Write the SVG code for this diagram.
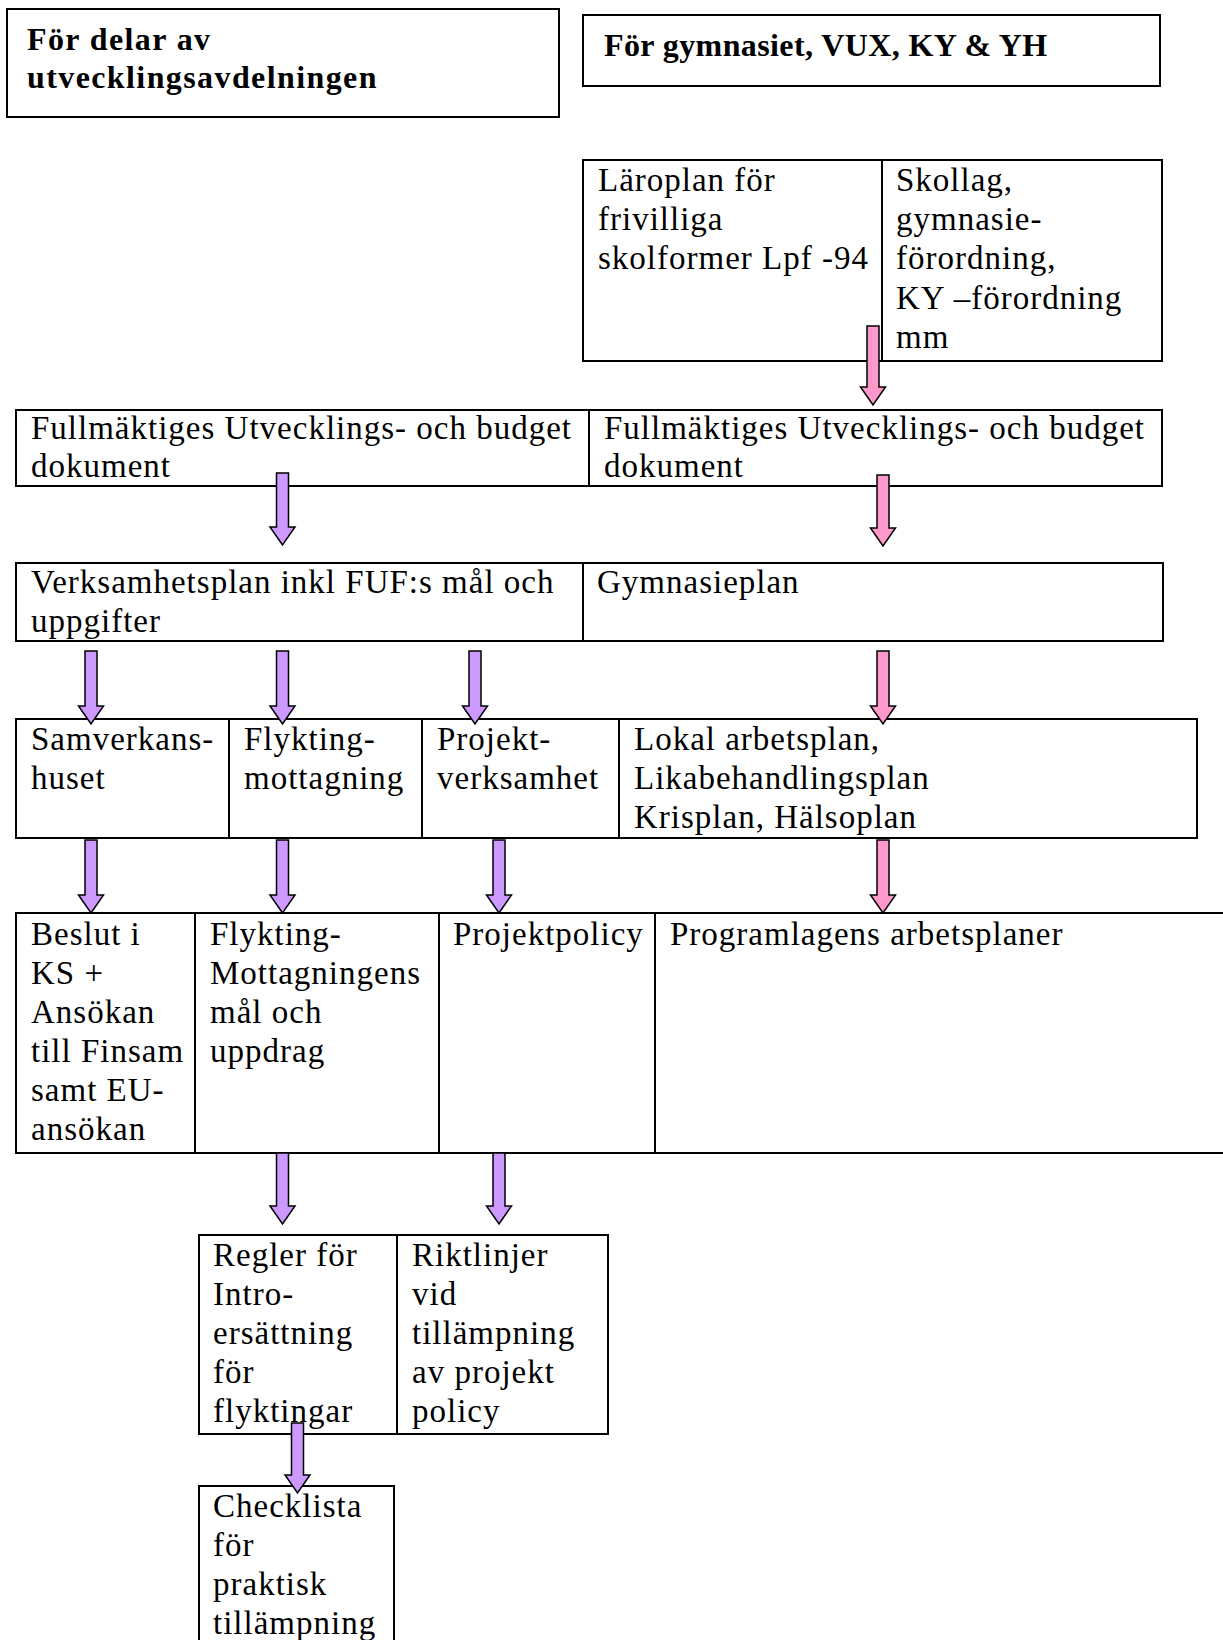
<svg xmlns="http://www.w3.org/2000/svg" width="1223" height="1640" viewBox="0 0 1223 1640">
<style>
.box{fill:#fff;stroke:#000;stroke-width:2}
.t{font-family:"Liberation Serif","Times New Roman",serif;font-size:33px;letter-spacing:1px;fill:#000}
.h{font-weight:bold;font-size:32px}
.pu{fill:#CC99FF;stroke:#000;stroke-width:1.5}
.pk{fill:#FF99CC;stroke:#000;stroke-width:1.5}
</style>
<rect width="1223" height="1640" fill="#fff"/>
<g id="hdrA"><rect class="box" x="7" y="9" width="552" height="108"/>
<text class="t h" x="27" y="50" style="letter-spacing:1.4px">För delar av</text>
<text class="t h" x="27" y="88" style="letter-spacing:1.4px">utvecklingsavdelningen</text></g>
<g id="hdrB"><rect class="box" x="583" y="15" width="577" height="71"/>
<text class="t h" x="604" y="56" style="letter-spacing:0.4px">För gymnasiet, VUX, KY &amp; YH</text></g>
<g id="laroplan"><rect class="box" x="583" y="160" width="299" height="201"/>
<text class="t" x="598" y="191">Läroplan för</text>
<text class="t" x="598" y="230">frivilliga</text>
<text class="t" x="598" y="269">skolformer Lpf -94</text></g>
<g id="skollag"><rect class="box" x="882" y="160" width="280" height="201"/>
<text class="t" x="896" y="191">Skollag,</text>
<text class="t" x="896" y="230">gymnasie-</text>
<text class="t" x="896" y="269">förordning,</text>
<text class="t" x="896" y="309">KY –förordning</text>
<text class="t" x="896" y="348">mm</text></g>
<g id="fullmA"><rect class="box" x="16" y="410" width="573" height="76"/>
<text class="t" x="31" y="439">Fullmäktiges Utvecklings- och budget</text>
<text class="t" x="31" y="477">dokument</text></g>
<g id="fullmB"><rect class="box" x="589" y="410" width="573" height="76"/>
<text class="t" x="604" y="439">Fullmäktiges Utvecklings- och budget</text>
<text class="t" x="604" y="477">dokument</text></g>
<g id="verksamhetsplan"><rect class="box" x="16" y="563" width="567" height="78"/>
<text class="t" x="31" y="593">Verksamhetsplan inkl FUF:s mål och</text>
<text class="t" x="31" y="632">uppgifter</text></g>
<g id="gymnasieplan"><rect class="box" x="583" y="563" width="580" height="78"/>
<text class="t" x="597" y="593">Gymnasieplan</text></g>
<g id="samverkanshuset"><rect class="box" x="16" y="719" width="213" height="119"/>
<text class="t" x="31" y="750">Samverkans-</text>
<text class="t" x="31" y="789">huset</text></g>
<g id="flyktingmottagning"><rect class="box" x="229" y="719" width="193" height="119"/>
<text class="t" x="244" y="750">Flykting-</text>
<text class="t" x="244" y="789">mottagning</text></g>
<g id="projektverksamhet"><rect class="box" x="422" y="719" width="197" height="119"/>
<text class="t" x="437" y="750">Projekt-</text>
<text class="t" x="437" y="789">verksamhet</text></g>
<g id="lokal"><rect class="box" x="619" y="719" width="578" height="119"/>
<text class="t" x="634" y="750">Lokal arbetsplan,</text>
<text class="t" x="634" y="789">Likabehandlingsplan</text>
<text class="t" x="634" y="828">Krisplan, Hälsoplan</text></g>
<g id="beslut"><rect class="box" x="16" y="913" width="179" height="240"/>
<text class="t" x="31" y="945">Beslut i</text>
<text class="t" x="31" y="984">KS +</text>
<text class="t" x="31" y="1023">Ansökan</text>
<text class="t" x="31" y="1062">till Finsam</text>
<text class="t" x="31" y="1101">samt EU-</text>
<text class="t" x="31" y="1140">ansökan</text></g>
<g id="flyktingmal"><rect class="box" x="195" y="913" width="244" height="240"/>
<text class="t" x="210" y="945">Flykting-</text>
<text class="t" x="210" y="984">Mottagningens</text>
<text class="t" x="210" y="1023">mål och</text>
<text class="t" x="210" y="1062">uppdrag</text></g>
<g id="projektpolicy"><rect class="box" x="439" y="913" width="216" height="240"/>
<text class="t" x="453" y="945">Projektpolicy</text></g>
<g id="programlagen"><rect class="box" x="655" y="913" width="580" height="240"/>
<text class="t" x="670" y="945">Programlagens arbetsplaner</text></g>
<g id="regler"><rect class="box" x="199" y="1235" width="198" height="199"/>
<text class="t" x="213" y="1266">Regler för</text>
<text class="t" x="213" y="1305">Intro-</text>
<text class="t" x="213" y="1344">ersättning</text>
<text class="t" x="213" y="1383">för</text>
<text class="t" x="213" y="1422">flyktingar</text></g>
<g id="riktlinjer"><rect class="box" x="397" y="1235" width="211" height="199"/>
<text class="t" x="412" y="1266">Riktlinjer</text>
<text class="t" x="412" y="1305">vid</text>
<text class="t" x="412" y="1344">tillämpning</text>
<text class="t" x="412" y="1383">av projekt</text>
<text class="t" x="412" y="1422">policy</text></g>
<g id="checklista"><rect class="box" x="199" y="1486" width="195" height="180"/>
<text class="t" x="213" y="1517">Checklista</text>
<text class="t" x="213" y="1556">för</text>
<text class="t" x="213" y="1595">praktisk</text>
<text class="t" x="213" y="1634">tillämpning</text></g>
<g id="connectors">
<path class="pk" d="M867 326 H879 V387 H885.5 L873 405 L860.5 387 H867 Z"/>
<path class="pu" d="M276.5 473 H288.5 V527 H295 L282.5 545 L270 527 H276.5 Z"/>
<path class="pk" d="M877 475 H889 V528 H895.5 L883 546 L870.5 528 H877 Z"/>
<path class="pu" d="M85 651 H97 V706 H103.5 L91 724 L78.5 706 H85 Z"/>
<path class="pu" d="M276.5 651 H288.5 V706 H295 L282.5 724 L270 706 H276.5 Z"/>
<path class="pu" d="M469 651 H481 V706 H487.5 L475 724 L462.5 706 H469 Z"/>
<path class="pk" d="M877 651 H889 V706 H895.5 L883 724 L870.5 706 H877 Z"/>
<path class="pu" d="M85 840 H97 V895 H103.5 L91 913 L78.5 895 H85 Z"/>
<path class="pu" d="M276.5 840 H288.5 V895 H295 L282.5 913 L270 895 H276.5 Z"/>
<path class="pu" d="M493 840 H505 V895 H511.5 L499 913 L486.5 895 H493 Z"/>
<path class="pk" d="M877 840 H889 V895 H895.5 L883 913 L870.5 895 H877 Z"/>
<path class="pu" d="M276.5 1153 H288.5 V1206 H295 L282.5 1224 L270 1206 H276.5 Z"/>
<path class="pu" d="M493 1153 H505 V1206 H511.5 L499 1224 L486.5 1206 H493 Z"/>
<path class="pu" d="M291.5 1423 H303.5 V1475 H310 L297.5 1493 L285 1475 H291.5 Z"/>
</g>
</svg>
